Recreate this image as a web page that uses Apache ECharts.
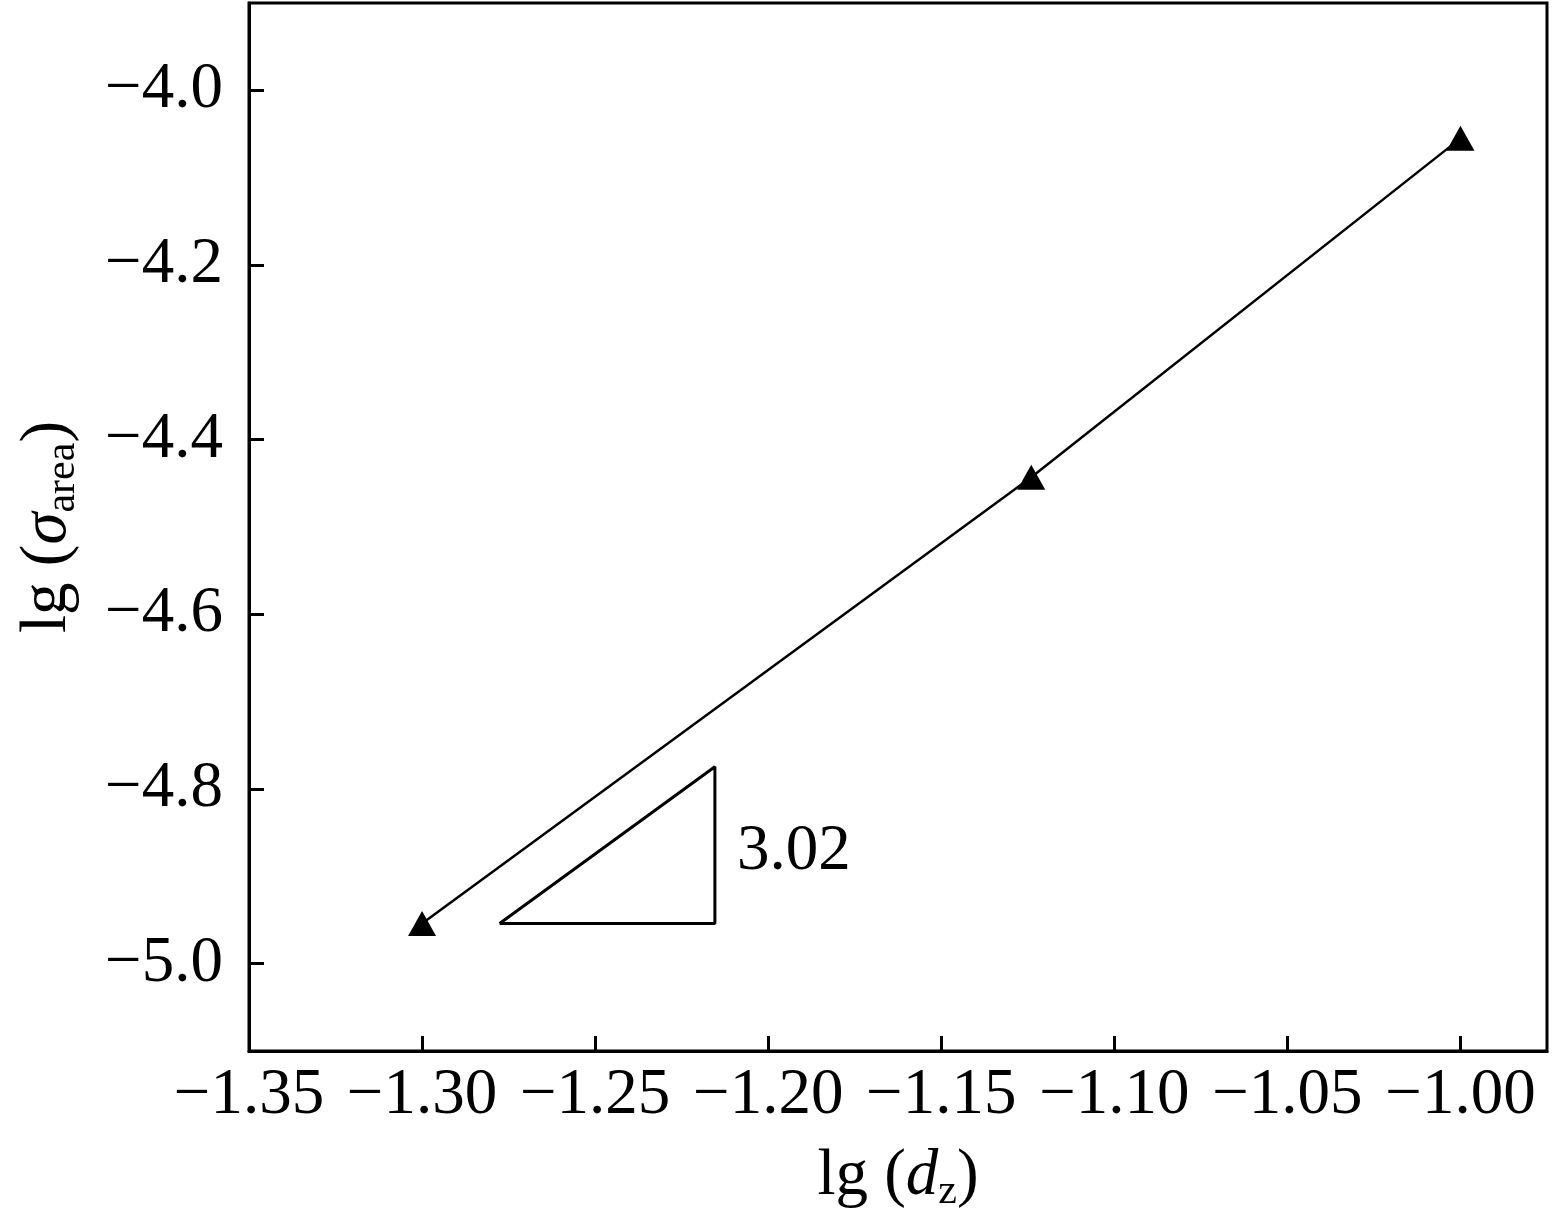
<!DOCTYPE html>
<html><head><meta charset="utf-8">
<script src="https://cdn.jsdelivr.net/npm/echarts@6/dist/echarts.min.js"></script>
<style>html,body{margin:0;padding:0;background:#fff}#c{width:1559px;height:1226px}</style>
</head><body><div id="c"></div>
<script>
const xData = [-1.30, -1.124, -1.00];
const yData = [-4.954, -4.443, -4.055];
const xTicks = [-1.35, -1.30, -1.25, -1.20, -1.15, -1.10, -1.05, -1.00];
const yTicks = [-5.0, -4.8, -4.6, -4.4, -4.2, -4.0];
const slopeTriX = [-1.2776, -1.2154, -1.2154, -1.2776];
const slopeTriY = [-4.954, -4.954, -4.7746, -4.954];
const slopeLabel = '3.02';
const slopeLabelPos = [-1.2154, -4.872];

const FONT = "'Liberation Serif','Times New Roman',serif";
const fmt = d => v => (v < 0 ? '\u2212' : '') + Math.abs(v).toFixed(d);

const chart = echarts.init(document.getElementById('c'), null, {renderer: 'canvas'});
chart.setOption({
  animation: false,
  backgroundColor: '#fff',
  grid: {left: 249, top: 3, right: 12, bottom: 175, show: true, borderColor: '#000', borderWidth: 3, containLabel: false},
  xAxis: {
    type: 'value', min: -1.35, max: -0.975,
    splitLine: {show: false},
    axisLine: {show: true, onZero: false, lineStyle: {color: '#000', width: 3}},
    axisTick: {show: true, inside: true, length: 15, lineStyle: {color: '#000', width: 3}, customValues: xTicks},
    axisLabel: {color: '#000', fontFamily: FONT, fontSize: 65, margin: 12, formatter: fmt(2), customValues: xTicks},
    name: '{n|lg (}{i|d}{s|z}{n|)}',
    nameLocation: 'middle', nameGap: 90,
    nameTextStyle: {
      color: '#000', fontFamily: FONT, fontSize: 65,
      rich: {
        n: {fontFamily: FONT, fontSize: 65, color: '#000'},
        i: {fontFamily: FONT, fontSize: 65, fontStyle: 'italic', color: '#000'},
        s: {fontFamily: FONT, fontSize: 42, color: '#000', padding: [30, 0, 0, 0]}
      }
    }
  },
  yAxis: {
    type: 'value', min: -5.1, max: -3.9,
    splitLine: {show: false},
    axisLine: {show: true, onZero: false, lineStyle: {color: '#000', width: 3}},
    axisTick: {show: true, inside: true, length: 15, lineStyle: {color: '#000', width: 3}, customValues: yTicks},
    axisLabel: {color: '#000', fontFamily: FONT, fontSize: 65, margin: 26, formatter: fmt(1), customValues: yTicks},
    name: '{n|lg (}{i|\u03C3}{s|area}{n|)}',
    nameLocation: 'middle', nameGap: 165,
    nameTextStyle: {
      color: '#000', fontFamily: FONT, fontSize: 65,
      rich: {
        n: {fontFamily: FONT, fontSize: 65, color: '#000'},
        i: {fontFamily: FONT, fontSize: 65, fontStyle: 'italic', color: '#000'},
        s: {fontFamily: FONT, fontSize: 42, color: '#000', padding: [30, 0, 0, 0]}
      }
    }
  },
  series: [
    {
      type: 'line',
      data: xData.map((x, i) => [x, yData[i]]),
      symbol: 'triangle', symbolSize: [28, 25],
      itemStyle: {color: '#000', opacity: 1},
      lineStyle: {color: '#000', width: 2.5},
      z: 3
    },
    {
      type: 'line',
      data: slopeTriX.map((x, i) => [x, slopeTriY[i]]),
      symbol: 'none',
      lineStyle: {color: '#000', width: 3},
      z: 2
    },
    {
      type: 'scatter',
      data: [slopeLabelPos],
      symbolSize: 0,
      z: 1,
      itemStyle: {color: '#000', opacity: 1},
      label: {show: true, position: 'right', distance: 22, formatter: slopeLabel, color: '#000', opacity: 1, fontFamily: FONT, fontSize: 65}
    }
  ]
});
</script></body></html>
